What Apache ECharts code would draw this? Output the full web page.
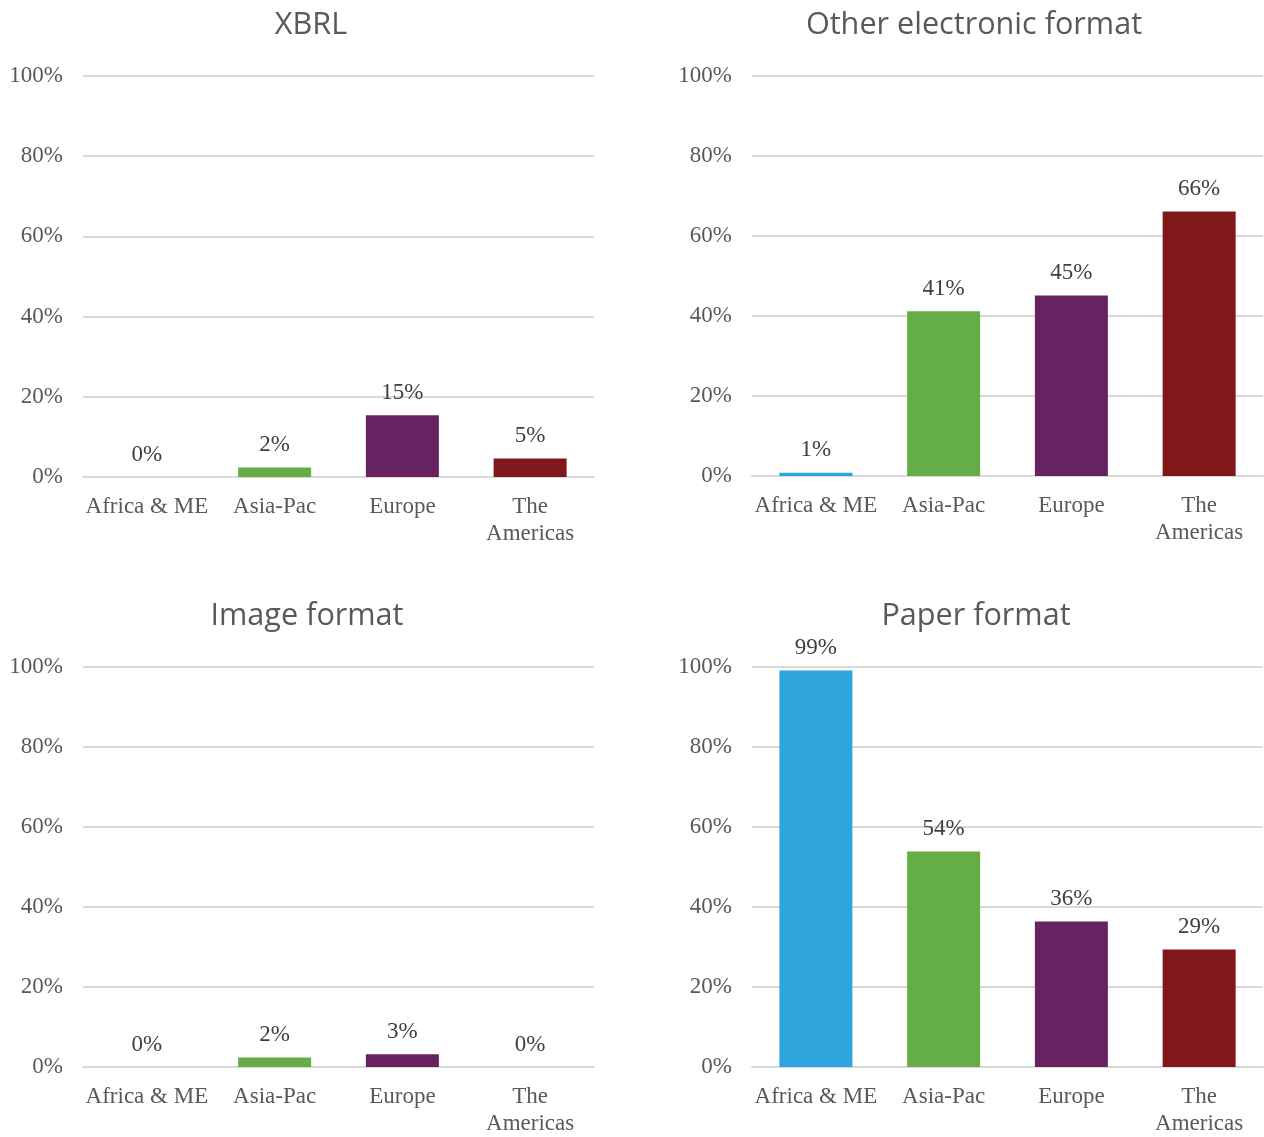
<!DOCTYPE html>
<html>
<head>
<meta charset="utf-8">
<script src="https://cdn.jsdelivr.net/npm/echarts@6/dist/echarts.min.js"></script>
<style>
html,body{margin:0;padding:0;background:#fff;}
#chart{width:1264px;height:1137px;}
</style>
</head>
<body>
<div id="chart"></div>
<script>
const categories = ["Africa & ME", "Asia-Pac", "Europe", "The Americas"];
const titles = ["XBRL", "Other electronic format", "Image format", "Paper format"];
const xbrl = [0, 2.4, 15.4, 4.6];
const otherElectronic = [0.8, 41.2, 45.1, 66.1];
const imageFormat = [0, 2.4, 3.2, 0];
const paperFormat = [99.1, 53.9, 36.4, 29.4];
const regionColors = ["#2fa5de", "#65ad45", "#672262", "#801718"];
const yTicks = [0, 20, 40, 60, 80, 100];

const panels = [xbrl, otherElectronic, imageFormat, paperFormat];
const grids = [
  {left: 83, top: 76, width: 511, height: 401},
  {left: 752, top: 76, width: 511, height: 400},
  {left: 83, top: 667, width: 511, height: 401},
  {left: 752, top: 667, width: 511, height: 401}
];
const titlePos = [
  {x: 306, y: 5},
  {x: 969, y: 5},
  {x: 302, y: 596},
  {x: 971, y: 596}
];
const serif = "'Liberation Serif', 'DejaVu Serif', serif";

const option = {
  animation: false,
  backgroundColor: '#ffffff',
  title: titles.map((t, i) => ({
    text: t,
    left: titlePos[i].x,
    top: titlePos[i].y,
    textAlign: 'center',
    textStyle: {fontFamily: "'Open Sans', sans-serif", fontSize: 30.6, fontWeight: 'normal', color: '#595959'}
  })),
  grid: grids.map(g => Object.assign({containLabel: false}, g)),
  xAxis: panels.map((p, i) => ({
    type: 'category',
    gridIndex: i,
    data: categories,
    axisLine: {show: true, lineStyle: {color: '#d9d9d9', width: 2}},
    axisTick: {show: false},
    axisLabel: {
      interval: 0,
      margin: 16,
      color: '#595959',
      fontFamily: serif,
      fontSize: 23,
      lineHeight: 27,
      formatter: v => v.replace('The ', 'The\n')
    }
  })),
  yAxis: panels.map((p, i) => ({
    type: 'value',
    gridIndex: i,
    min: 0,
    max: 100,
    interval: 20,
    axisLine: {show: false},
    axisTick: {show: false},
    splitLine: {show: true, lineStyle: {color: '#d9d9d9', width: 2}},
    axisLabel: {
      margin: 20,
      color: '#595959',
      fontFamily: serif,
      fontSize: 23,
      formatter: v => yTicks.includes(v) ? v + '%' : ''
    }
  })),
  series: panels.map((p, i) => ({
    type: 'bar',
    xAxisIndex: i,
    yAxisIndex: i,
    barWidth: 73,
    data: p.map((v, j) => ({value: v, itemStyle: {color: regionColors[j]}})),
    label: {
      show: true,
      position: 'top',
      distance: 11,
      color: '#404040',
      fontFamily: serif,
      fontSize: 23,
      formatter: d => Math.round(d.value) + '%'
    }
  }))
};

const chart = echarts.init(document.getElementById('chart'), null, {renderer: 'canvas'});
chart.setOption(option);
</script>
</body>
</html>
